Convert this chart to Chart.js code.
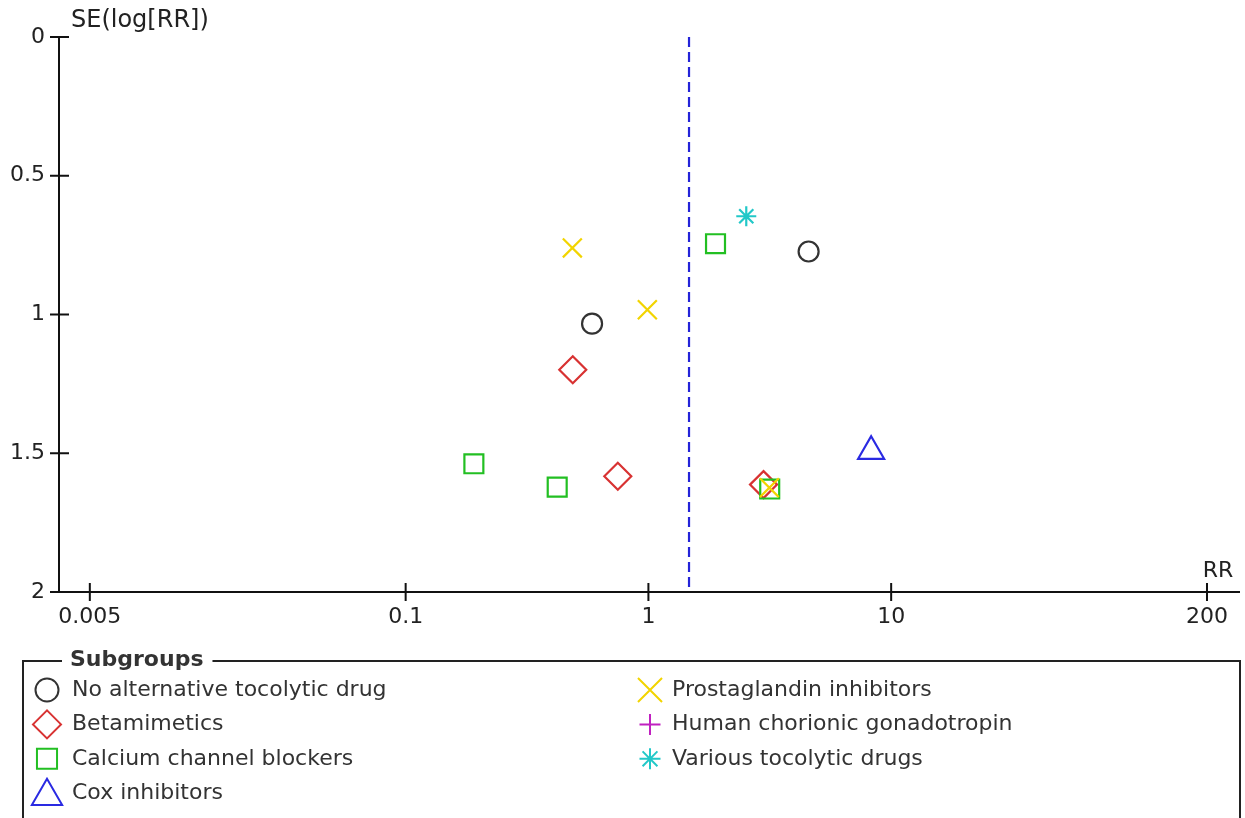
<!DOCTYPE html>
<html>
<head>
<meta charset="utf-8">
<script src="https://cdn.jsdelivr.net/npm/chart.js@4.4.1/dist/chart.umd.min.js"></script>
<style>
  html, body { margin: 0; padding: 0; background: #ffffff; }
  #wrap { width: 1245px; height: 818px; position: relative; }
</style>
</head>
<body>
<div id="wrap"><canvas id="funnel"></canvas></div>
<script>
// Funnel plot: risk ratio (log scale) against SE(log[RR]), grouped by subgroup
const xTickValues = [0.005, 0.1, 1, 10, 200];
const xTickLabels = ['0.005', '0.1', '1', '10', '200'];
const yTickValues = [0, 0.5, 1, 1.5, 2];
const xAxisTitle = 'RR';
const yAxisTitle = 'SE(log[RR])';
const legendTitle = 'Subgroups';
const pooledRR = 1.47;

const subgroupNames = [
  'No alternative tocolytic drug',
  'Betamimetics',
  'Calcium channel blockers',
  'Cox inhibitors',
  'Prostaglandin inhibitors',
  'Human chorionic gonadotropin',
  'Various tocolytic drugs'
];

// Study estimates: risk ratio and its standard error on the log scale
const noAlternativeRR = [0.586, 4.57];
const noAlternativeSE = [1.033, 0.773];
const betamimeticsRR = [0.488, 0.748, 2.98];
const betamimeticsSE = [1.199, 1.583, 1.613];
const calciumBlockersRR = [1.89, 0.191, 0.421, 3.16];
const calciumBlockersSE = [0.745, 1.538, 1.622, 1.629];
const coxInhibitorsRR = [8.27];
const coxInhibitorsSE = [1.493];
const prostaglandinRR = [0.486, 0.99, 3.15];
const prostaglandinSE = [0.760, 0.983, 1.624];
const hcgRR = [];
const hcgSE = [];
const variousRR = [2.53];
const variousSE = [0.646];

const subgroupRR = [noAlternativeRR, betamimeticsRR, calciumBlockersRR, coxInhibitorsRR, prostaglandinRR, hcgRR, variousRR];
const subgroupSE = [noAlternativeSE, betamimeticsSE, calciumBlockersSE, coxInhibitorsSE, prostaglandinSE, hcgSE, variousSE];

// marker look for each subgroup (plot radius, legend radius, stacking order)
const markerStyles = [
  { style: 'circle',   color: '#333333', r: 10,   lr: 11.5, order: 7 },
  { style: 'rectRot',  color: '#d83232', r: 13.5, lr: 14,   order: 4 },
  { style: 'rect',     color: '#22bf22', r: 13.4, lr: 14.2, order: 3 },
  { style: 'triangle', color: '#2a2ae2', r: 15,   lr: 17.5, order: 5 },
  { style: 'crossRot', color: '#f2d400', r: 13.4, lr: 17,   order: 2 },
  { style: 'cross',    color: '#c020c0', r: 10,   lr: 10.5, order: 6 },
  { style: 'star',     color: '#22c8c8', r: 10,   lr: 10.5, order: 1 }
];

const FONT = "'DejaVu Sans', 'Liberation Sans', sans-serif";
Chart.defaults.font.family = FONT;
Chart.defaults.font.size = 22;

function toPoints(rr, se) {
  return rr.map((v, i) => ({ x: v, y: se[i] }));
}

const datasets = subgroupNames.map((name, i) => ({
  type: 'scatter',
  label: name,
  data: toPoints(subgroupRR[i], subgroupSE[i]),
  pointStyle: markerStyles[i].style,
  pointRadius: markerStyles[i].r,
  pointHoverRadius: markerStyles[i].r,
  borderColor: markerStyles[i].color,
  backgroundColor: 'rgba(0,0,0,0)',
  pointBorderWidth: 2.2,
  pointHoverBorderWidth: 2.2,
  borderWidth: 2.2,
  order: markerStyles[i].order,
  isSubgroup: true
}));

// pooled estimate, drawn as a dashed vertical line
datasets.push({
  type: 'line',
  label: 'Pooled RR',
  data: [{ x: pooledRR, y: 0 }, { x: pooledRR, y: 2 }],
  borderColor: '#2424d8',
  borderWidth: 2.2,
  borderDash: [10, 5],
  pointRadius: 0,
  fill: false,
  order: 10,
  isSubgroup: false
});

// axis lines with tick marks crossing the axis, plus the axis titles
const funnelAxes = {
  id: 'funnelAxes',
  beforeDatasetsDraw(chart) {
    const { ctx, chartArea: a, scales } = chart;
    const xs = scales.x, ys = scales.y;
    const x0 = a.left, yb = a.bottom;
    ctx.save();
    ctx.strokeStyle = '#111111';
    ctx.lineWidth = 2;
    ctx.beginPath();
    ctx.moveTo(x0, ys.getPixelForValue(yTickValues[0]));
    ctx.lineTo(x0, yb);
    ctx.moveTo(x0, yb);
    ctx.lineTo(a.right, yb);
    ys.ticks.forEach(t => {
      const p = ys.getPixelForValue(t.value);
      ctx.moveTo(x0 - 9, p);
      ctx.lineTo(x0 + 10, p);
    });
    xs.ticks.forEach(t => {
      const p = xs.getPixelForValue(t.value);
      ctx.moveTo(p, yb - 9);
      ctx.lineTo(p, yb + 9);
    });
    ctx.stroke();

    ctx.fillStyle = '#222222';
    ctx.textBaseline = 'middle';
    ctx.textAlign = 'left';
    ctx.font = '24px ' + FONT;
    ctx.fillText(yAxisTitle, x0 + 12, ys.getPixelForValue(yTickValues[0]) - 16);
    ctx.font = '22px ' + FONT;
    ctx.textAlign = 'center';
    ctx.fillText(xAxisTitle, xs.getPixelForValue(xTickValues[xTickValues.length - 1]) + 11, yb - 21);
    ctx.restore();
  }
};

// boxed legend with two columns of subgroup markers
const subgroupLegend = {
  id: 'subgroupLegend',
  afterDraw(chart) {
    const { ctx } = chart;
    const left = 23, top = 661, right = 1240, bottom = 830;
    const titleX = 70;
    ctx.save();
    ctx.font = 'bold 22px ' + FONT;
    const titleW = ctx.measureText(legendTitle).width;

    ctx.strokeStyle = '#222222';
    ctx.lineWidth = 2;
    ctx.beginPath();
    ctx.moveTo(left, bottom);
    ctx.lineTo(left, top);
    ctx.lineTo(titleX - 8, top);
    ctx.moveTo(titleX + titleW + 9, top);
    ctx.lineTo(right, top);
    ctx.lineTo(right, bottom);
    ctx.stroke();

    ctx.fillStyle = '#333333';
    ctx.textBaseline = 'middle';
    ctx.textAlign = 'left';
    ctx.fillText(legendTitle, titleX, top - 1);

    ctx.font = '22px ' + FONT;
    let k = 0;
    chart.data.datasets.forEach((ds, i) => {
      if (!ds.isSubgroup) return;
      const col = k < 4 ? 0 : 1;
      const row = k < 4 ? k : k - 4;
      const mx = col === 0 ? 47 : 650;
      const tx = col === 0 ? 72 : 672;
      const my = 690 + row * 34.4;
      const m = markerStyles[i];
      ctx.strokeStyle = m.color;
      ctx.fillStyle = 'rgba(0,0,0,0)';
      ctx.lineWidth = 2;
      Chart.helpers.drawPoint(ctx, { pointStyle: m.style, radius: m.lr, rotation: 0, borderWidth: 2 },
        mx, m.style === 'triangle' ? my + 3 : my);
      ctx.fillStyle = '#333333';
      ctx.fillText(ds.label, tx, my);
      k++;
    });
    ctx.restore();
  }
};

new Chart(document.getElementById('funnel'), {
  data: { datasets },
  options: {
    responsive: true,
    maintainAspectRatio: false,
    animation: false,
    layout: { autoPadding: false, padding: { top: 37, right: 5, left: 0, bottom: 0 } },
    plugins: { legend: { display: false }, tooltip: { enabled: false } },
    scales: {
      x: {
        type: 'logarithmic',
        position: 'bottom',
        min: Math.pow(10, -2.428),
        max: Math.pow(10, 2.437),
        grid: { display: false, drawTicks: false },
        border: { display: false },
        afterBuildTicks: s => { s.ticks = xTickValues.map(v => ({ value: v })); },
        afterFit: s => { s.height = 226; s.paddingLeft = 0; s.paddingRight = 0; },
        ticks: {
          autoSkip: false,
          maxRotation: 0,
          padding: 12,
          color: '#222222',
          callback: v => {
            const i = xTickValues.indexOf(v);
            return i >= 0 ? xTickLabels[i] : '';
          }
        }
      },
      y: {
        type: 'linear',
        position: 'left',
        min: 0,
        max: 2,
        reverse: true,
        grid: { display: false, drawTicks: false },
        border: { display: false },
        afterBuildTicks: s => { s.ticks = yTickValues.map(v => ({ value: v })); },
        afterFit: s => { s.width = 59; s.paddingTop = 0; s.paddingBottom = 0; },
        ticks: {
          padding: 14,
          color: '#222222',
          callback: v => String(v)
        }
      }
    }
  },
  plugins: [funnelAxes, subgroupLegend]
});
</script>
</body>
</html>
